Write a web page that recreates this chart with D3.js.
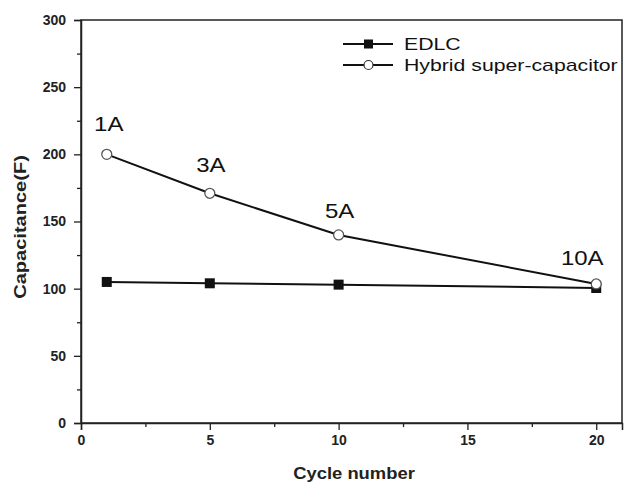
<!DOCTYPE html>
<html>
<head>
<meta charset="utf-8">
<script src="https://cdn.jsdelivr.net/npm/d3@7"></script>
<style>
  body { margin: 0; background: #fff; }
  text { font-family: "Liberation Sans", Arial, sans-serif; }
</style>
</head>
<body>
<div id="chart"></div>
<script>
// data
var cycles = [1, 5, 10, 20];
var edlc = [105, 104, 103, 100.5];
var hybrid = [200, 171, 140, 103.5];
var currents = ["1A", "3A", "5A", "10A"];
var xTicks = [0, 5, 10, 15, 20];
var yTicks = [0, 50, 100, 150, 200, 250, 300];

var W = 627, H = 484;
var margin = { top: 20, right: 5, bottom: 61, left: 81 };
var width = W - margin.left - margin.right;
var height = H - margin.top - margin.bottom;

var svg = d3.select("#chart").append("svg")
  .attr("width", W).attr("height", H)
  .append("g")
  .attr("transform", "translate(" + margin.left + "," + margin.top + ")");

var x = d3.scaleLinear().domain([0, 21]).range([0, width]);
var y = d3.scaleLinear().domain([0, 300]).range([height, 0]);

// the original picture is a bit stretched sideways, so text is too
function stretched(sel, px, py, sx) {
  return sel.attr("transform", "translate(" + px + "," + py + ") scale(" + sx + ",1)");
}

// frame
svg.append("rect")
  .attr("x", 0).attr("y", 0).attr("width", width).attr("height", height)
  .attr("fill", "none").attr("stroke", "#222").attr("stroke-width", 1.5);

// minor ticks
svg.append("g")
  .attr("transform", "translate(0," + height + ")")
  .call(d3.axisBottom(x).tickValues([2.5, 7.5, 12.5, 17.5]).tickSize(4).tickFormat(""))
  .call(function(g) { g.select(".domain").remove(); });
svg.append("g")
  .call(d3.axisLeft(y).tickValues([25, 75, 125, 175, 225, 275]).tickSize(4).tickFormat(""))
  .call(function(g) { g.select(".domain").remove(); });

// major axes
svg.append("g")
  .attr("transform", "translate(0," + height + ")")
  .call(d3.axisBottom(x).tickValues(xTicks).tickSize(7).tickPadding(5));
svg.append("g")
  .call(d3.axisLeft(y).tickValues(yTicks).tickSize(7).tickPadding(8));

svg.selectAll(".tick line").attr("stroke", "#222").attr("stroke-width", 1.3);
svg.selectAll(".domain").attr("stroke", "#222").attr("stroke-width", 1.5);
svg.selectAll(".tick text")
  .style("font-size", "14px").style("font-weight", "bold")
  .attr("fill", "#222");

// axis titles
stretched(svg.append("text"), 354 - margin.left, 479 - margin.top, 1.15)
  .attr("text-anchor", "middle")
  .style("font-size", "16px").style("font-weight", "bold").attr("fill", "#222")
  .text("Cycle number");
svg.append("text")
  .attr("transform", "translate(" + (26 - margin.left) + "," + (227 - margin.top) + ") rotate(-90) scale(1.18,1)")
  .attr("text-anchor", "middle")
  .style("font-size", "17px").style("font-weight", "bold").attr("fill", "#222")
  .text("Capacitance(F)");

var line = d3.line()
  .x(function(d) { return x(d[0]); })
  .y(function(d) { return y(d[1]); });

var edlcPts = cycles.map(function(c, i) { return [c, edlc[i]]; });
var hybPts = cycles.map(function(c, i) { return [c, hybrid[i]]; });

// EDLC
svg.append("path").datum(edlcPts)
  .attr("d", line).attr("fill", "none")
  .attr("stroke", "#111").attr("stroke-width", 2);
svg.selectAll(".sq").data(edlcPts).enter().append("rect")
  .attr("class", "sq")
  .attr("x", function(d) { return x(d[0]) - 5; })
  .attr("y", function(d) { return y(d[1]) - 5; })
  .attr("width", 10).attr("height", 10)
  .attr("fill", "#111");

// Hybrid
svg.append("path").datum(hybPts)
  .attr("d", line).attr("fill", "none")
  .attr("stroke", "#111").attr("stroke-width", 2);
svg.selectAll(".ci").data(hybPts).enter().append("circle")
  .attr("class", "ci")
  .attr("cx", function(d) { return x(d[0]); })
  .attr("cy", function(d) { return y(d[1]); })
  .attr("r", 5)
  .attr("fill", "#fff").attr("stroke", "#555").attr("stroke-width", 1.3);

// current labels
var labDx = [2, 1, 1, -14];
var labDy = [-23, -21, -17, -19];
svg.selectAll(".cur").data(hybPts).enter().append("text")
  .attr("class", "cur")
  .each(function(d, i) {
    stretched(d3.select(this), x(d[0]) + labDx[i], y(d[1]) + labDy[i], 1.2);
  })
  .attr("text-anchor", "middle")
  .style("font-size", "20px").attr("fill", "#111")
  .text(function(d, i) { return currents[i]; });

// legend
var legend = [
  { name: "EDLC", shape: "square" },
  { name: "Hybrid super-capacitor", shape: "circle" }
];
var lg = svg.selectAll(".lg").data(legend).enter().append("g")
  .attr("class", "lg")
  .attr("transform", function(d, i) { return "translate(" + (343 - margin.left) + "," + (44 + i * 21 - margin.top) + ")"; });
lg.append("line").attr("x1", 0).attr("x2", 50).attr("y1", 0).attr("y2", 0)
  .attr("stroke", "#111").attr("stroke-width", 2);
lg.filter(function(d) { return d.shape == "square"; }).append("rect")
  .attr("x", 21).attr("y", -4.5).attr("width", 9).attr("height", 9).attr("fill", "#111");
lg.filter(function(d) { return d.shape == "circle"; }).append("circle")
  .attr("cx", 25.5).attr("cy", 0).attr("r", 4.5)
  .attr("fill", "#fff").attr("stroke", "#333").attr("stroke-width", 1.2);
lg.append("text")
  .each(function() { stretched(d3.select(this), 61, 0, 1.25); })
  .attr("dy", "0.36em")
  .style("font-size", "17px").attr("fill", "#111")
  .text(function(d) { return d.name; });
</script>
</body>
</html>
